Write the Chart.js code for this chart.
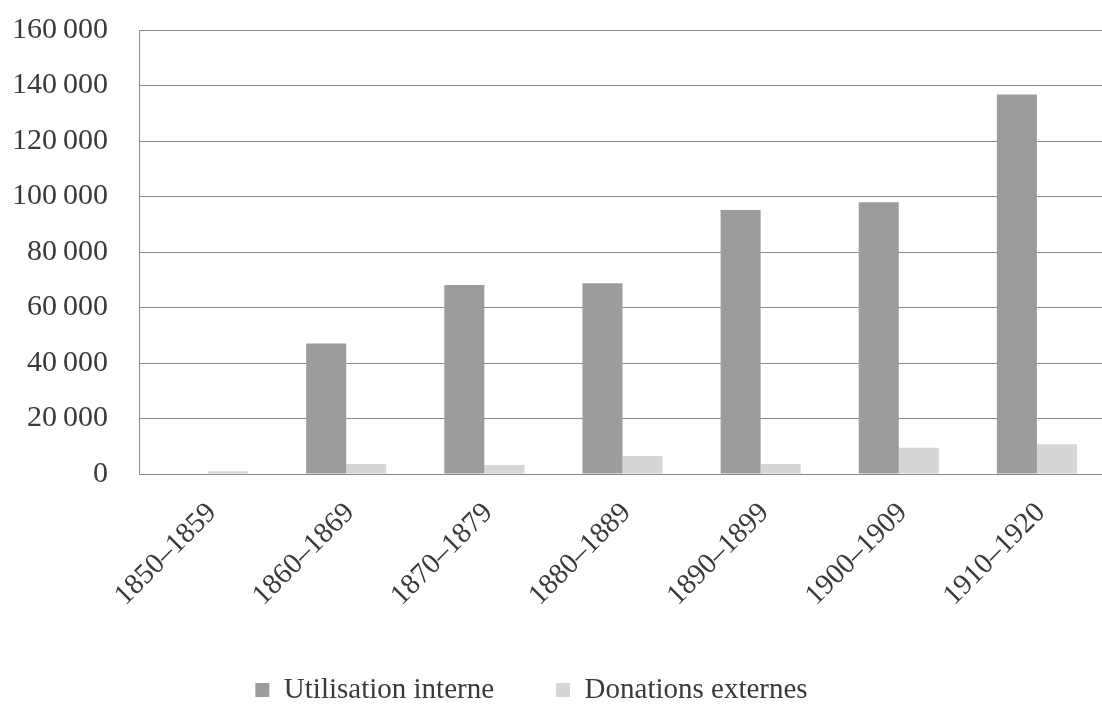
<!DOCTYPE html>
<html>
<head>
<meta charset="utf-8">
<script src="https://cdn.jsdelivr.net/npm/chart.js@4.4.1/dist/chart.umd.min.js"></script>
<style>
  html, body { margin: 0; padding: 0; background: #fff; overflow: hidden; }
  #wrap { width: 1110px; height: 713px; }
</style>
</head>
<body>
<div id="wrap"><canvas id="c" width="1110" height="713"></canvas></div>
<script>
// Periods on the category axis
const periods = ['1850–1859', '1860–1869', '1870–1879', '1880–1889', '1890–1899', '1900–1909', '1910–1920'];
// Series values
const utilisationInterne = [0, 47000, 68100, 68700, 95100, 97900, 136800];
const donationsExternes = [1000, 3600, 3200, 6500, 3600, 9500, 10700];
// Series names
const seriesNames = ['Utilisation interne', 'Donations externes'];
// Value axis ticks
const yTicks = [0, 20000, 40000, 60000, 80000, 100000, 120000, 140000, 160000];

const FONT = "'Liberation Serif', 'DejaVu Serif', serif";
const TEXT = '#3a3a3a';
const GRID = '#8a8a8a';
const LEGEND_H = 40;

function groupThousands(v) {
  return String(v).replace(/\B(?=(\d{3})+(?!\d))/g, '\u2009');
}

// Keeps the legend band compact and places its row under the rotated labels
const legendPlacement = {
  id: 'legendPlacement',
  beforeInit(chart) {
    const lg = chart.legend;
    if (!lg) return;
    const fit = lg.fit;
    lg.fit = function () { fit.call(this); this.height = LEGEND_H; };
  },
  afterLayout(chart) {
    const lg = chart.legend;
    if (!lg) return;
    const pad = lg.options.labels.padding;
    const itemH = lg.options.labels.font.size;
    lg.left = 0;
    lg.right = 1063;
    lg.top = 690 - pad - itemH / 2;
  }
};

new Chart(document.getElementById('c'), {
  type: 'bar',
  data: {
    labels: periods,
    datasets: [
      { label: seriesNames[0], data: utilisationInterne, backgroundColor: '#9c9c9c', borderWidth: 0 },
      { label: seriesNames[1], data: donationsExternes, backgroundColor: '#d6d6d6', borderWidth: 0 }
    ]
  },
  options: {
    responsive: false,
    animation: false,
    layout: { padding: { top: 30, right: 4, left: 0, bottom: 0 } },
    datasets: { bar: { categoryPercentage: 0.58, barPercentage: 1.0 } },
    plugins: {
      tooltip: { enabled: false },
      legend: {
        position: 'bottom',
        labels: {
          font: { family: FONT, size: 29 },
          color: TEXT,
          boxWidth: 14,
          boxHeight: 14,
          padding: 62
        }
      }
    },
    scales: {
      x: {
        grid: { display: false, drawTicks: false },
        border: { display: true, color: GRID, width: 1 },
        ticks: {
          font: { family: FONT, size: 29 },
          color: TEXT,
          autoSkip: false,
          maxRotation: 45,
          minRotation: 45,
          padding: 22,
          labelOffset: 4
        },
        afterFit(scale) { scale.height = 713 - 474 - LEGEND_H; }
      },
      y: {
        min: 0,
        max: 160000,
        afterBuildTicks(scale) { scale.ticks = yTicks.map(v => ({ value: v })); },
        grid: { color: GRID, lineWidth: 1, drawTicks: false },
        border: { display: true, color: GRID, width: 1 },
        ticks: {
          font: { family: FONT, size: 30 },
          color: TEXT,
          padding: 31,
          callback: v => groupThousands(v)
        },
        afterFit(scale) {
          scale.width = 139;
          scale.paddingTop = 18;
          scale.paddingBottom = 18;
        }
      }
    }
  },
  plugins: [legendPlacement]
});
</script>
</body>
</html>
